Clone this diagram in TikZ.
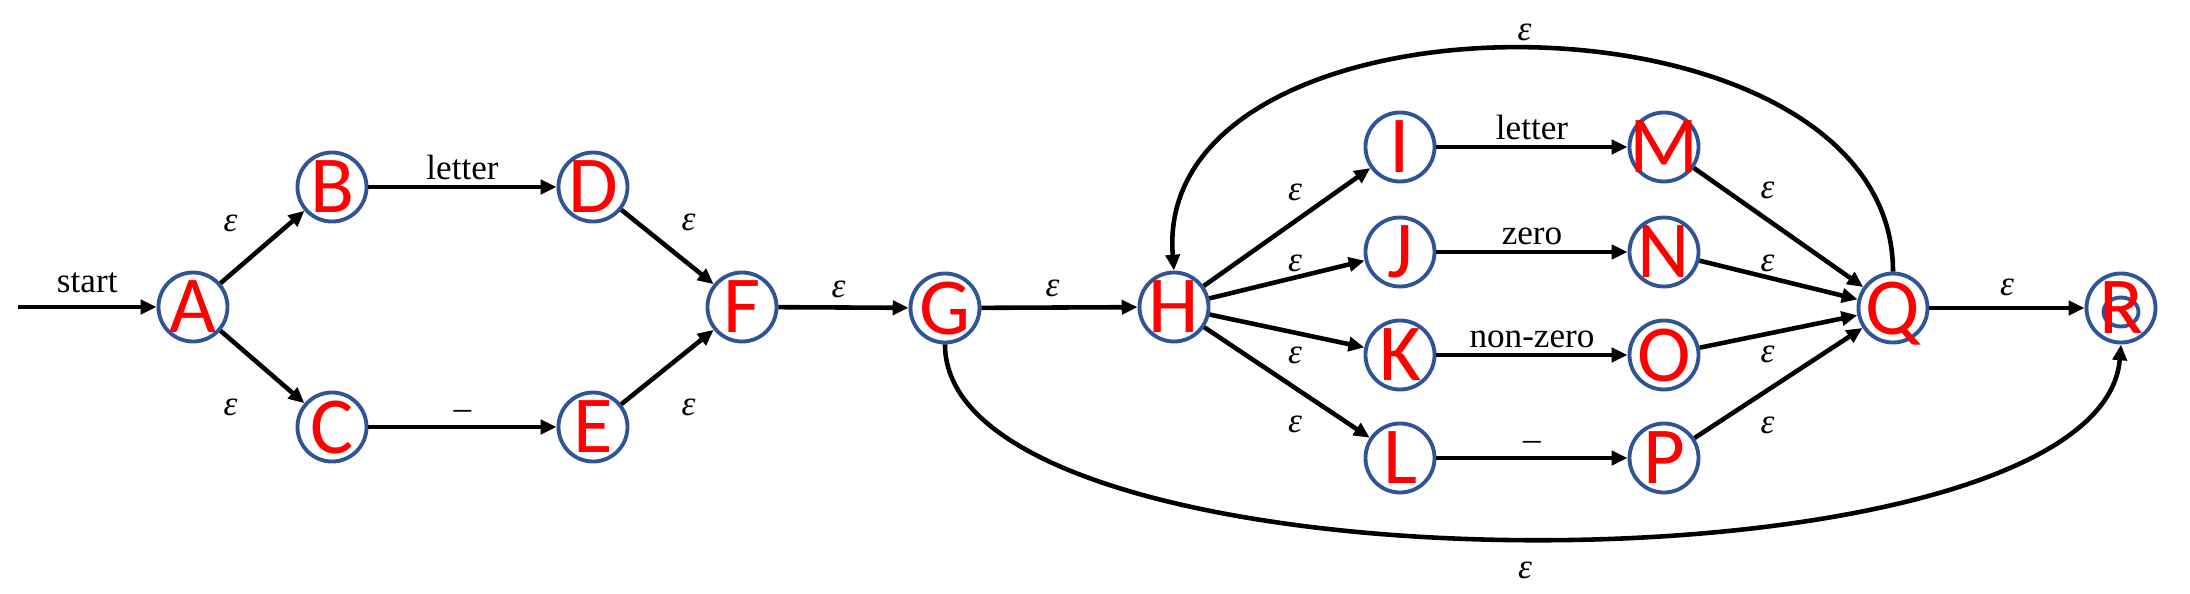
\documentclass[tikz,border=0pt]{standalone}
\usepackage{fontspec}
\setmainfont{Liberation Serif}
\newfontfamily\statefont{Carlito}
\usetikzlibrary{arrows.meta}
\definecolor{stateblue}{RGB}{47,85,151}
\definecolor{statered}{RGB}{255,0,0}

\begin{document}
\begin{tikzpicture}[
	  x=0.01cm, y=-0.01cm,
	  state/.style = {shape=circle, draw=stateblue, line width=1.1pt, minimum size=0.69cm, inner sep=0pt, text depth=0pt, text=statered, font=\statefont\fontsize{23}{23}\selectfont},
	  accept/.style = {path picture={\draw[stateblue, line width=1.1pt] ([yshift=-0.04cm]path picture bounding box.center) ellipse[x radius=0.175cm, y radius=0.145cm];}},
	  arr/.style = {draw, line width=1.3pt, -{Triangle[length=4.5pt, width=4pt]}},
	  eps/.style = {font=\fontsize{10}{10}\selectfont\itshape, inner sep=0pt},
	  sym/.style = {font=\fontsize{10}{10}\selectfont, above, inner sep=1.5pt}
	]
	  \useasboundingbox (0,0) rectangle (2190,594);

	  % states
	  \foreach \n/\x/\y in {A/193/307, B/332/187, C/332/427, D/593/187, E/593/427, F/742/307,
	                        G/945/308, H/1174/307, I/1400/147, J/1400/252, K/1400/355, L/1400/458,
	                        M/1664/147, N/1664/252, O/1664/355, P/1664/458, Q/1893/308}
	    \node[state] (\n) at (\x,\y) {\makebox[0pt]{\n}};
	  \node[state, accept] (R) at (2121,308) {\makebox[0pt]{R}};
	  \coordinate (start) at (18,307);

	  % first part
	  \draw[arr] (start) -- node[sym, inner sep=3.4pt] {start} (A);
	  \draw[arr] (A) -- node[eps, shift={(-32,-24)}] {ε} (B);
	  \draw[arr] (A) -- node[eps, shift={(-32,40)}] {ε} (C);
	  \draw[arr] (B) -- node[sym] {letter} (D);
	  \draw[arr] (C) -- node[sym] {–} (E);
	  \draw[arr] (D) -- node[eps, shift={(21,-25)}] {ε} (F);
	  \draw[arr] (E) -- node[eps, shift={(21,40)}] {ε} (F);
	  \draw[arr] (F) -- node[eps, shift={(-5,-18)}] {ε} (G);
	  \draw[arr] (G) -- node[eps, shift={(-7,-19)}] {ε} (H);

	  % loop part
	  \draw[arr] (H) -- node[eps, shift={(8,-35)}] {ε} (I);
	  \draw[arr] (H) -- node[eps, shift={(8,-16)}] {ε} (J);
	  \draw[arr] (H) -- node[eps, shift={(8,24)}] {ε} (K);
	  \draw[arr] (H) -- node[eps, shift={(8,42)}] {ε} (L);
	  \draw[arr] (I) -- node[sym] {letter} (M);
	  \draw[arr] (J) -- node[sym] {zero} (N);
	  \draw[arr] (K) -- node[sym] {non-zero} (O);
	  \draw[arr] (L) -- node[sym] {–} (P);
	  \draw[arr] (M) -- node[eps, shift={(-11,-37)}] {ε} (Q);
	  \draw[arr] (N) -- node[eps, shift={(-11,-17)}] {ε} (Q);
	  \draw[arr] (O) -- node[eps, shift={(-11,23)}] {ε} (Q);
	  \draw[arr] (P) -- node[eps, shift={(-11,42)}] {ε} (Q);
	  \draw[arr] (Q) -- node[eps, shift={(0,-21)}] {ε} (R);

	  % back and skip edges
	  \draw[arr] (Q.north) .. controls (1893,-25) and (1150,-25) .. node[eps, shift={(0,-17)}] {ε} (H.north);
	  \draw[arr] (G.south) .. controls (945,603) and (2100,603) .. node[eps, shift={(0,32)}] {ε} (R.south);
	\end{tikzpicture}
\end{document}
